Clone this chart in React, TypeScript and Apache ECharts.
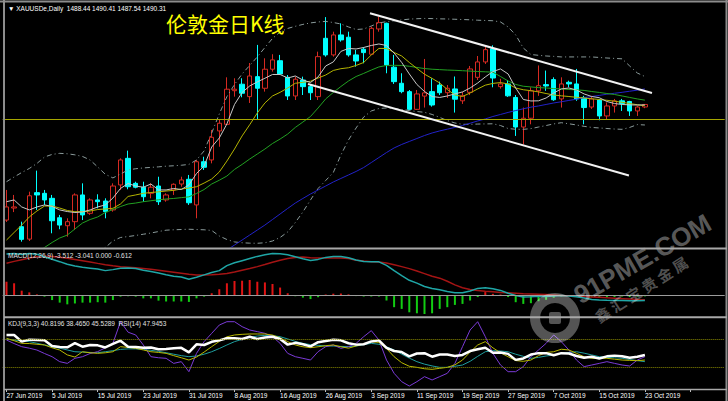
import React, { useEffect, useRef } from "react";
import * as echarts from "echarts";

const dates = [
  "27 Jun 2019", "28 Jun 2019", "1 Jul 2019", "2 Jul 2019", "3 Jul 2019", "4 Jul 2019",
  "5 Jul 2019", "8 Jul 2019", "9 Jul 2019", "10 Jul 2019", "11 Jul 2019", "12 Jul 2019",
  "15 Jul 2019", "16 Jul 2019", "17 Jul 2019", "18 Jul 2019", "19 Jul 2019", "22 Jul 2019",
  "23 Jul 2019", "24 Jul 2019", "25 Jul 2019", "26 Jul 2019", "29 Jul 2019", "30 Jul 2019",
  "31 Jul 2019", "1 Aug 2019", "2 Aug 2019", "5 Aug 2019", "6 Aug 2019", "7 Aug 2019",
  "8 Aug 2019", "9 Aug 2019", "12 Aug 2019", "13 Aug 2019", "14 Aug 2019", "15 Aug 2019",
  "16 Aug 2019", "19 Aug 2019", "20 Aug 2019", "21 Aug 2019", "22 Aug 2019", "23 Aug 2019",
  "26 Aug 2019", "27 Aug 2019", "28 Aug 2019", "29 Aug 2019", "30 Aug 2019", "2 Sep 2019",
  "3 Sep 2019", "4 Sep 2019", "5 Sep 2019", "6 Sep 2019", "9 Sep 2019", "10 Sep 2019",
  "11 Sep 2019", "12 Sep 2019", "13 Sep 2019", "16 Sep 2019", "17 Sep 2019", "18 Sep 2019",
  "19 Sep 2019", "20 Sep 2019", "23 Sep 2019", "24 Sep 2019", "25 Sep 2019", "26 Sep 2019",
  "27 Sep 2019", "30 Sep 2019", "1 Oct 2019", "2 Oct 2019", "3 Oct 2019", "4 Oct 2019",
  "7 Oct 2019", "8 Oct 2019", "9 Oct 2019", "10 Oct 2019", "11 Oct 2019", "14 Oct 2019",
  "15 Oct 2019", "16 Oct 2019", "17 Oct 2019", "18 Oct 2019", "21 Oct 2019", "22 Oct 2019",
  "23 Oct 2019",
];

const opens = [
  1404.7, 1413.6, 1399.8, 1390.6, 1425.0, 1424.5, 1420.8, 1406.4, 1400.5, 1403.5,
  1423.3, 1409.7, 1419.6, 1418.8, 1412.2, 1430.7, 1450.4, 1431.9, 1429.0, 1424.5,
  1429.9, 1419.6, 1427.0, 1431.4, 1434.9, 1415.9, 1447.9, 1449.2, 1470.7, 1475.6,
  1500.5, 1505.3, 1496.1, 1510.9, 1502.3, 1516.4, 1522.7, 1510.4, 1496.6, 1508.4,
  1503.5, 1496.1, 1539.3, 1527.0, 1541.8, 1540.1, 1527.0, 1531.2, 1527.5, 1546.2,
  1550.4, 1517.9, 1506.0, 1499.8, 1486.7, 1496.5, 1499.8, 1504.7, 1499.0, 1501.8,
  1493.0, 1499.3, 1510.4, 1521.8, 1531.6, 1503.5, 1505.5, 1495.5, 1473.6, 1480.1,
  1500.4, 1505.0, 1508.7, 1494.4, 1506.7, 1505.5, 1495.5, 1488.4, 1493.6, 1481.8,
  1489.2, 1493.0, 1492.5, 1485.5, 1488.44,
];
const highs = [
  1427.0, 1423.3, 1403.5, 1425.7, 1441.3, 1427.0, 1423.3, 1408.5, 1406.0, 1424.5,
  1431.9, 1420.8, 1423.8, 1420.8, 1431.9, 1450.4, 1456.1, 1433.1, 1433.1, 1431.9,
  1436.8, 1424.5, 1431.9, 1436.8, 1438.1, 1449.2, 1451.6, 1471.4, 1478.8, 1510.4,
  1509.7, 1509.7, 1521.0, 1534.4, 1524.5, 1527.5, 1527.0, 1512.1, 1510.9, 1510.9,
  1504.7, 1529.4, 1555.0, 1544.2, 1550.4, 1544.2, 1530.7, 1532.7, 1547.9, 1555.3,
  1550.9, 1527.0, 1513.4, 1501.0, 1501.0, 1524.0, 1509.7, 1507.2, 1504.7, 1511.0,
  1499.6, 1518.8, 1526.2, 1532.9, 1534.1, 1509.3, 1508.4, 1497.3, 1488.0, 1503.0,
  1519.2, 1515.4, 1510.4, 1510.4, 1507.9, 1516.6, 1496.7, 1496.7, 1494.4, 1491.8,
  1494.4, 1494.4, 1493.0, 1489.3, 1490.41,
];
const lows = [
  1403.3, 1410.6, 1388.7, 1389.2, 1412.2, 1415.9, 1394.9, 1397.9, 1392.4, 1397.3,
  1404.7, 1408.5, 1413.4, 1406.0, 1410.9, 1427.0, 1427.5, 1428.2, 1418.3, 1420.8,
  1415.9, 1418.3, 1423.3, 1429.4, 1415.9, 1406.0, 1441.8, 1446.7, 1459.0, 1475.1,
  1496.1, 1495.6, 1491.4, 1479.3, 1499.8, 1514.6, 1512.1, 1493.6, 1493.6, 1497.3,
  1493.6, 1493.6, 1525.7, 1525.7, 1536.8, 1525.7, 1518.3, 1520.8, 1527.0, 1544.2,
  1513.4, 1505.5, 1498.6, 1486.2, 1486.2, 1488.0, 1488.7, 1497.3, 1495.1, 1484.3,
  1490.7, 1497.3, 1508.4, 1520.3, 1503.0, 1502.0, 1495.9, 1467.0, 1460.7, 1475.6,
  1496.7, 1500.4, 1493.0, 1488.0, 1503.0, 1493.0, 1475.6, 1487.0, 1478.6, 1479.3,
  1484.3, 1485.5, 1481.8, 1481.8, 1487.54,
];
const closes = [
  1414.4, 1414.4, 1390.4, 1422.7, 1423.3, 1419.6, 1404.2, 1401.0, 1403.5, 1423.3,
  1408.5, 1419.6, 1418.3, 1410.9, 1429.9, 1449.2, 1429.4, 1429.0, 1422.0, 1429.0,
  1418.3, 1423.3, 1431.2, 1434.4, 1417.5, 1447.9, 1443.8, 1466.0, 1476.4, 1501.6,
  1501.6, 1498.6, 1511.4, 1502.3, 1516.4, 1523.3, 1512.9, 1496.6, 1509.0, 1503.5,
  1499.0, 1525.7, 1527.0, 1541.8, 1538.1, 1527.0, 1522.5, 1528.7, 1546.7, 1550.9,
  1519.6, 1507.2, 1499.8, 1486.7, 1498.1, 1498.9, 1489.9, 1499.0, 1502.3, 1494.2,
  1496.7, 1516.6, 1521.8, 1530.9, 1509.9, 1505.5, 1496.7, 1473.6, 1480.1, 1500.4,
  1504.2, 1504.0, 1493.8, 1505.5, 1505.5, 1494.4, 1488.0, 1494.4, 1481.8, 1489.2,
  1493.0, 1491.0, 1485.5, 1488.4, 1490.31,
];

const ma5 = [
  1418.3, 1419.6, 1414.4, 1412.2, 1414.4, 1415.9, 1414.8, 1412.2, 1411.0, 1410.3,
  1410.7, 1412.2, 1414.4, 1415.9, 1421.0, 1428.1, 1431.8, 1429.9, 1429.0, 1431.4,
  1427.0, 1427.0, 1428.1, 1427.3, 1430.7, 1439.2, 1444.7, 1458.8, 1465.5, 1475.9,
  1490.3, 1499.2, 1504.0, 1507.0, 1509.7, 1512.5, 1512.5, 1509.9, 1511.4, 1508.4,
  1506.6, 1510.7, 1518.8, 1521.8, 1529.6, 1531.8, 1531.4, 1532.5, 1534.0, 1535.1,
  1534.0, 1528.4, 1521.4, 1512.9, 1505.1, 1499.9, 1496.2, 1495.5, 1496.6, 1498.1,
  1499.6, 1502.5, 1506.2, 1510.7, 1514.7, 1516.6, 1512.9, 1502.5, 1494.0, 1492.9,
  1493.0, 1495.1, 1498.8, 1501.8, 1502.5, 1501.0, 1498.1, 1496.2, 1495.3, 1492.5,
  1491.0, 1490.3, 1490.0, 1489.9, 1490.0,
];
const ma10 = [
  1389.9, 1395.5, 1401.0, 1407.0, 1411.4, 1415.1, 1415.1, 1413.6, 1411.8, 1410.9,
  1410.9, 1411.4, 1412.5, 1412.9, 1413.4, 1416.6, 1422.2, 1423.3, 1424.5, 1425.1,
  1425.6, 1426.2, 1426.7, 1427.7, 1428.4, 1429.4, 1432.1, 1435.1, 1440.3, 1448.4,
  1457.3, 1467.0, 1475.3, 1484.0, 1491.4, 1496.6, 1499.3, 1502.5, 1506.0, 1506.7,
  1507.5, 1509.9, 1512.1, 1515.5, 1516.8, 1517.5, 1519.2, 1521.4, 1527.0, 1531.8,
  1531.8, 1528.8, 1526.2, 1521.4, 1517.0, 1512.7, 1509.6, 1506.2, 1501.4, 1497.3,
  1496.2, 1498.8, 1501.8, 1504.6, 1505.9, 1506.5, 1505.5, 1502.5, 1501.2, 1500.5,
  1499.6, 1498.4, 1497.3, 1496.7, 1496.2, 1495.6, 1495.1, 1494.5, 1494.0, 1493.4,
  1492.7, 1491.9, 1491.0, 1490.1, 1489.3,
];
const ma20 = [
  1369.2, 1372.2, 1375.0, 1378.0, 1381.0, 1384.4, 1388.1, 1391.4, 1393.6, 1398.1,
  1402.5, 1405.1, 1407.0, 1410.3, 1412.5, 1414.7, 1416.6, 1417.3, 1418.3, 1419.0,
  1419.7, 1420.3, 1420.7, 1421.3, 1421.9, 1424.4, 1427.3, 1431.4, 1434.2, 1437.3,
  1442.2, 1445.9, 1449.9, 1453.6, 1457.3, 1461.4, 1464.7, 1468.4, 1473.3, 1477.3,
  1481.4, 1487.7, 1494.4, 1499.2, 1503.6, 1507.7, 1511.0, 1513.3, 1515.8, 1518.1,
  1519.2, 1519.3, 1519.2, 1518.6, 1517.7, 1516.9, 1516.4, 1516.1, 1515.8, 1515.6,
  1515.3, 1515.0, 1514.7, 1514.5, 1514.2, 1511.0, 1507.7, 1505.1, 1503.8, 1503.3,
  1502.8, 1502.5, 1502.1, 1501.8, 1501.4, 1501.1, 1500.7, 1499.9, 1499.2, 1498.4,
  1497.7, 1496.6, 1495.5, 1494.4, 1493.5,
];
const maSlow = [
  null, null, null, null, null, null, null, null, null, null,
  null, null, null, null, null, null, null, null, null, null,
  null, null, null, null, null, null, null, null, 1378.8, 1382.5,
  1386.2, 1389.9, 1393.6, 1397.3, 1401.0, 1405.1, 1409.2, 1413.3, 1417.3, 1420.7,
  1424.0, 1427.0, 1429.9, 1432.9, 1435.5, 1438.1, 1440.7, 1443.6, 1447.3, 1451.0,
  1454.7, 1458.1, 1460.7, 1462.9, 1465.1, 1467.3, 1469.2, 1470.7, 1472.0, 1473.3,
  1474.7, 1476.4, 1478.1, 1479.6, 1481.4, 1482.9, 1484.4, 1485.8, 1487.1, 1488.3,
  1489.2, 1490.3, 1491.4, 1492.3, 1493.3, 1494.2, 1495.3, 1496.2, 1497.0, 1497.9,
  1498.6, 1499.3, 1500.1, 1500.9, 1501.8,
];
const bbUpper = [
  1433.1, 1436.6, 1439.9, 1442.9, 1446.6, 1451.4, 1453.3, 1454.1, 1453.8, 1453.0,
  1451.8, 1449.2, 1444.0, 1438.6, 1435.9, 1438.8, 1441.8, 1442.7, 1443.3, 1443.7,
  1444.1, 1444.6, 1444.9, 1445.3, 1445.9, 1449.2, 1455.9, 1469.2, 1483.3, 1496.1,
  1505.1, 1512.9, 1519.2, 1525.5, 1532.5, 1539.2, 1544.0, 1546.6, 1548.2, 1549.6,
  1550.7, 1551.4, 1551.8, 1551.0, 1549.9, 1547.7, 1545.8, 1546.2, 1548.4, 1550.7,
  1551.6, 1552.3, 1552.9, 1553.5, 1553.8, 1554.0, 1553.9, 1553.7, 1553.6, 1553.4,
  1553.2, 1553.0, 1552.7, 1552.5, 1552.3, 1551.4, 1547.7, 1541.8, 1532.1, 1527.3,
  1526.7, 1526.2, 1525.9, 1525.5, 1525.5, 1525.5, 1525.5, 1525.5, 1525.1, 1524.7,
  1524.4, 1524.1, 1518.8, 1513.6, 1511.0,
];
const bbLower = [
  null, null, null, null, null, null, null, null, null, null,
  null, null, 1381.0, 1384.4, 1389.2, 1391.8, 1392.5, 1393.3, 1394.2, 1395.1,
  1396.2, 1397.2, 1397.5, 1397.7, 1397.9, 1397.7, 1397.5, 1397.0, 1392.9, 1390.3,
  1388.5, 1387.9, 1387.6, 1387.5, 1387.9, 1389.2, 1391.8, 1395.9, 1402.9, 1410.7,
  1419.6, 1428.1, 1434.0, 1439.9, 1452.9, 1464.0, 1472.9, 1481.0, 1485.5, 1487.3,
  1487.7, 1487.3, 1486.6, 1485.8, 1485.1, 1484.5, 1482.9, 1480.7, 1478.4, 1476.6,
  1475.6, 1475.6, 1475.8, 1475.9, 1476.0, 1474.7, 1472.5, 1471.9, 1471.9, 1472.4,
  1473.6, 1474.7, 1475.9, 1476.8, 1476.0, 1475.1, 1474.1, 1473.3, 1472.9, 1472.5,
  1472.1, 1471.9, 1473.3, 1475.4, 1475.1,
];

const supportLevel = 1479.3;
const upperChannel = [[47.83, 1557.8], [84.93, 1498.8]];
const lowerChannel = [[39.67, 1505.5], [81.9, 1437.7]];

const dif = [
  29.2, 29.5, 28.8, 29.5, 29.0, 27.3, 25.5, 23.8, 22.0, 20.8,
  19.8, 19.2, 18.6, 17.5, 18.2, 19.1, 19.3, 19.0, 17.8, 16.9,
  15.8, 14.6, 13.6, 13.0, 11.4, 12.8, 14.5, 16.2, 17.5, 21.0,
  23.0, 24.5, 26.0, 27.5, 28.6, 29.6, 29.3, 28.6, 27.2, 25.8,
  24.6, 25.4, 26.8, 27.4, 27.5, 26.6, 25.0, 23.9, 23.8, 23.7,
  21.2, 17.5, 14.0, 10.7, 8.7, 6.3, 5.0, 4.0, 2.9, 2.0,
  1.9, 3.2, 5.0, 5.5, 4.8, 3.6, 1.6, 0.0, -1.1, -0.9,
  -0.6, -0.7, -0.3, 0.0, -0.3, -0.9, -1.8, -2.8, -3.2, -3.4,
  -3.5, -3.5, -3.6, -3.6, -3.5,
];
const dea = [
  22.7, 24.0, 25.2, 26.3, 27.2, 27.6, 27.4, 26.9, 26.2, 25.4,
  24.5, 23.6, 22.6, 21.7, 20.9, 20.3, 19.9, 19.5, 19.0, 18.4,
  17.8, 17.1, 16.4, 15.7, 15.0, 14.5, 14.4, 14.6, 14.9, 15.5,
  16.5, 17.8, 19.0, 20.3, 21.8, 23.4, 24.8, 26.0, 26.8, 27.0,
  26.6, 26.3, 26.3, 26.4, 26.4, 26.0, 24.8, 24.2, 23.8, 23.6,
  22.8, 21.6, 20.3, 18.9, 17.2, 15.4, 13.6, 12.2, 10.0, 7.5,
  5.5, 4.3, 3.6, 3.0, 2.6, 2.2, 1.9, 1.6, 1.3, 1.1,
  0.9, 0.7, 0.4, 0.0, -0.3, -0.7, -0.9, -1.1, -1.3, -1.6,
  -1.9, -2.2, -2.5, -2.8, -3.0,
];
const macdHist = [
  9.7, 8.6, 3.4, 2.2, 0.8, -0.8, -3.2, -5.0, -6.2, -5.6,
  -5.0, -5.0, -4.7, -5.0, -3.2, -0.8, -0.5, -0.8, -2.0, -2.0,
  -3.6, -4.2, -4.2, -4.2, -4.5, -2.0, -0.8, 1.6, 4.4, 8.6,
  10.2, 10.4, 10.9, 9.7, 9.2, 8.1, 5.6, 1.6, -0.5, -1.5,
  -2.5, -1.2, 0.7, 1.3, 1.4, 0.8, -0.4, -0.7, -0.7, -0.7,
  -3.5, -8.2, -9.4, -11.8, -12.5, -13.0, -12.5, -9.4, -8.2, -6.6,
  -5.9, -3.5, -1.1, 2.4, 1.2, 0.7, -1.1, -4.7, -5.9, -5.4,
  -4.0, -3.0, -1.6, -0.7, -0.7, -0.7, -1.1, -1.1, -1.6, -1.1,
  -1.1, -0.7, -1.1, -0.7, -0.6,
];

const kLine = [
  71.4, 68.0, 64.3, 64.0, 63.0, 62.0, 58.0, 54.9, 48.0, 45.0,
  52.5, 51.0, 50.2, 51.0, 52.5, 59.6, 58.5, 57.3, 55.0, 52.5,
  51.5, 50.2, 47.0, 44.0, 40.8, 45.0, 52.0, 59.6, 67.0, 73.5,
  76.1, 77.0, 77.5, 77.5, 77.5, 76.0, 72.0, 66.7, 62.0, 59.5,
  58.2, 59.5, 61.0, 62.0, 59.5, 57.5, 60.6, 63.5, 66.7, 65.5,
  57.0, 45.5, 37.0, 32.0, 30.5, 28.5, 27.7, 29.1, 30.5, 34.0,
  40.8, 52.0, 62.0, 66.7, 58.0, 51.0, 45.5, 40.0, 39.0, 40.8,
  47.0, 51.5, 52.5, 56.0, 55.0, 50.2, 45.5, 43.2, 43.2, 43.2,
  42.0, 40.8, 40.3, 39.9, 40.8,
];
const dLine = [
  70.0, 69.0, 67.8, 66.7, 64.5, 62.0, 59.6, 57.5, 55.0, 52.5,
  52.0, 51.5, 51.1, 52.5, 54.0, 55.8, 56.5, 56.5, 55.8, 54.5,
  53.0, 51.1, 49.0, 47.0, 45.5, 46.5, 49.0, 52.5, 57.0, 62.0,
  66.7, 70.0, 72.5, 74.6, 75.5, 75.0, 73.7, 70.5, 67.0, 64.3,
  62.5, 61.5, 60.6, 60.5, 60.0, 59.6, 60.5, 62.5, 64.3, 63.0,
  59.5, 54.9, 49.0, 43.5, 38.5, 35.0, 32.5, 30.5, 30.5, 32.0,
  33.8, 39.0, 46.0, 52.5, 54.0, 53.5, 52.5, 49.0, 46.0, 43.2,
  44.5, 46.5, 47.9, 50.0, 51.5, 52.5, 50.5, 48.0, 45.5, 44.5,
  44.0, 43.2, 41.5, 40.0, 38.5,
];
const jLine = [
  69.0, 64.0, 59.6, 57.5, 54.9, 50.0, 45.5, 38.5, 36.1, 43.2,
  45.5, 50.0, 52.6, 58.0, 64.3, 94.8, 80.0, 76.1, 62.0, 45.5,
  44.0, 43.2, 36.1, 38.5, 24.4, 50.2, 66.7, 78.4, 90.1, 94.8,
  94.8, 87.8, 83.1, 80.8, 78.4, 73.7, 64.3, 50.2, 45.5, 43.2,
  40.8, 52.6, 59.6, 62.0, 57.3, 59.6, 64.3, 73.7, 82.2, 69.0,
  40.8, 22.1, 10.3, 4.2, 10.3, 17.4, 12.7, 17.4, 22.1, 36.1,
  59.6, 83.1, 94.8, 73.7, 50.2, 33.8, 24.4, 24.4, 31.5, 45.5,
  54.9, 64.3, 76.1, 66.7, 54.9, 40.8, 31.5, 33.8, 36.1, 38.5,
  36.1, 33.8, 32.4, 40.8, 45.5,
];
const rsi = [
  76.0, 76.0, 66.7, 69.5, 69.0, 68.5, 60.5, 59.0, 58.7, 64.5,
  59.6, 62.0, 61.5, 58.5, 63.5, 68.0, 59.6, 59.0, 58.0, 58.5,
  56.0, 56.5, 57.5, 58.0, 51.6, 63.0, 62.0, 66.5, 68.5, 71.5,
  71.4, 70.5, 73.5, 70.5, 72.5, 73.5, 70.5, 62.5, 65.0, 63.0,
  60.0, 66.0, 67.5, 69.5, 68.5, 64.5, 62.5, 63.0, 67.0, 68.5,
  58.0, 53.5, 52.0, 46.0, 50.0, 50.5, 45.5, 48.5, 48.5, 46.5,
  48.0, 53.5, 56.0, 58.0, 51.0, 51.5, 49.5, 41.0, 43.0, 48.5,
  50.5, 50.5, 47.5, 50.5, 50.0, 46.5, 44.0, 45.5, 43.0, 46.0,
  47.0, 46.0, 44.0, 45.5, 47.9,
];
const kdjLevels = [70, 30];

const headerText = "\u25BC XAUUSDe,Daily  1488.44 1490.41 1487.54 1490.31";
const titleText = "伦敦金日K线";
const macdText = "MACD(12,26,9) -3.512 -3.041 0.000 -0.612";
const kdjText = "KDJ(9,3,3) 40.8196 38.4650 45.5289  RSI(14) 47.9453";
const watermarkText = "91PME.COM";
const watermarkSub = "鑫 汇 宝 贵 金 属";

const EMPTY_SLOTS = 10;
const FONT = '"Liberation Sans", Arial, sans-serif';

export default function App() {
  const ref = useRef<HTMLDivElement>(null);

  useEffect(() => {
    document.body.style.margin = "0";
    document.body.style.background = "#000";
    const chart = echarts.init(ref.current!, null, { renderer: "svg" });

    const cats = [...dates];
    for (let k = 0; k < EMPTY_SLOTS; k++) cats.push("pad" + k);
    const n = cats.length;
    const labelFmt = (v: string) => (v.startsWith("pad") ? "" : v);

    const candleData = dates.map((_, i) => [opens[i], closes[i], lows[i], highs[i]]);

    const GRID_LEFT = 2.7;
    const GRID_W = 722;

    const catAxis = (gridIndex: number, showLabels: boolean) => ({
      type: "category",
      gridIndex,
      data: cats,
      boundaryGap: true,
      axisLine: { show: false },
      axisTick: showLabels
        ? { show: true, interval: 5, alignWithLabel: true, length: 3, lineStyle: { color: "#bdbdbd" } }
        : { show: false },
      axisLabel: showLabels
        ? {
            show: true,
            interval: 5,
            formatter: labelFmt,
            color: "#ffffff",
            fontSize: 6.5,
            fontFamily: FONT,
            align: "left",
            margin: 3,
          }
        : { show: false },
      splitLine: { show: false },
    });

    const lineS = (data: any[], color: string, width: number, xi: number, yi: number, extra: any = {}) => ({
      type: "line",
      data,
      xAxisIndex: xi,
      yAxisIndex: yi,
      symbol: "none",
      showSymbol: false,
      connectNulls: false,
      lineStyle: { color, width, ...(extra.lineStyle || {}) },
      z: extra.z ?? 3,
      silent: true,
    });

    const option: any = {
      animation: false,
      backgroundColor: "#000000",
      grid: [
        { left: GRID_LEFT, width: GRID_W, top: 4, height: 243 },
        { left: GRID_LEFT, width: GRID_W, top: 250, height: 66 },
        { left: GRID_LEFT, width: GRID_W, top: 318, height: 71 },
      ],
      xAxis: [
        catAxis(0, false),
        { type: "value", gridIndex: 0, min: -0.5, max: n - 0.5, show: false },
        catAxis(1, false),
        catAxis(2, true),
      ],
      yAxis: [
        { type: "value", gridIndex: 0, min: 1384.75, max: 1564.7, show: false, splitLine: { show: false } },
        { type: "value", gridIndex: 1, min: -14.4, max: 32, show: false, splitLine: { show: false } },
        { type: "value", gridIndex: 2, min: 0, max: 100, show: false, splitLine: { show: false } },
      ],
      series: [
        {
          type: "candlestick",
          xAxisIndex: 0,
          yAxisIndex: 0,
          data: candleData,
          barWidth: 5,
          z: 2,
          silent: true,
          itemStyle: {
            color: "#000000",
            color0: "#00ffff",
            borderColor: "#d62a22",
            borderColor0: "#00ffff",
            borderWidth: 1,
          },
          markLine: {
            silent: true,
            symbol: "none",
            label: { show: false },
            lineStyle: { color: "#a6a600", width: 1, type: "solid" },
            data: [{ yAxis: supportLevel }],
          },
        },
        lineS(bbUpper, "#8a9a9a", 1, 0, 0, { lineStyle: { type: [5, 3, 1, 3] } }),
        lineS(bbLower, "#8a9a9a", 1, 0, 0, { lineStyle: { type: [5, 3, 1, 3] } }),
        lineS(maSlow, "#2222c8", 1, 0, 0),
        lineS(ma20, "#22a022", 1, 0, 0),
        lineS(ma10, "#b4b400", 1, 0, 0),
        lineS(ma5, "#c8c8c8", 1, 0, 0),
        lineS(upperChannel, "#f2f2f2", 2, 1, 0, { z: 5 }),
        lineS(lowerChannel, "#f2f2f2", 2, 1, 0, { z: 5 }),
        {
          type: "bar",
          xAxisIndex: 2,
          yAxisIndex: 1,
          barWidth: 2,
          silent: true,
          data: macdHist.map((v) => ({ value: v, itemStyle: { color: v >= 0 ? "#e01414" : "#12cc12" } })),
          markLine: {
            silent: true,
            symbol: "none",
            label: { show: false },
            lineStyle: { color: "#9c9c9c", width: 1, type: "solid" },
            data: [{ yAxis: 0 }],
          },
        },
        lineS(dea, "#a41414", 1.5, 2, 1),
        lineS(dif, "#1fa6a6", 1.5, 2, 1),
        {
          ...lineS(dLine, "#1f9e9e", 1, 3, 2),
          markLine: {
            silent: true,
            symbol: "none",
            label: { show: false },
            lineStyle: { color: "#8a8a00", width: 1, type: "dotted" },
            data: kdjLevels.map((v) => ({ yAxis: v })),
          },
        },
        lineS(jLine, "#7a3ad6", 1, 3, 2),
        lineS(kLine, "#b8b800", 1, 3, 2),
        lineS(rsi, "#ffffff", 2.5, 3, 2, { z: 4 }),
      ],
      graphic: [
        { type: "line", z: 100, shape: { x1: 0, y1: 1.5, x2: 728, y2: 1.5 }, style: { stroke: "#8c8c8c", lineWidth: 2 } },
        { type: "line", z: 100, shape: { x1: 4, y1: 0, x2: 4, y2: 401 }, style: { stroke: "#8c8c8c", lineWidth: 2 } },
        { type: "line", z: 100, shape: { x1: 726.5, y1: 0, x2: 726.5, y2: 401 }, style: { stroke: "#8c8c8c", lineWidth: 2 } },
        { type: "line", z: 100, shape: { x1: 4, y1: 248.5, x2: 727, y2: 248.5 }, style: { stroke: "#a8a8a8", lineWidth: 2 } },
        { type: "line", z: 100, shape: { x1: 4, y1: 317.3, x2: 727, y2: 317.3 }, style: { stroke: "#a8a8a8", lineWidth: 2 } },
        { type: "line", z: 100, shape: { x1: 4, y1: 389.5, x2: 727, y2: 389.5 }, style: { stroke: "#a8a8a8", lineWidth: 1.5 } },
        {
          type: "text", z: 100, x: 8, y: 8,
          style: { text: headerText, fill: "#ffffff", font: `6.5px ${FONT}`, textVerticalAlign: "middle" },
        },
        {
          type: "text", z: 100, x: 166, y: 23,
          style: { text: titleText, fill: "#ffff00", font: '21px "Noto Sans CJK SC", sans-serif', textVerticalAlign: "middle" },
        },
        {
          type: "text", z: 100, x: 8, y: 255.5,
          style: { text: macdText, fill: "#e0e0e0", font: `6.5px ${FONT}`, textVerticalAlign: "middle" },
        },
        {
          type: "text", z: 100, x: 8, y: 323,
          style: { text: kdjText, fill: "#e0e0e0", font: `6.5px ${FONT}`, textVerticalAlign: "middle" },
        },
        {
          type: "ring", z: 90,
          shape: { cx: 555, cy: 318, r: 25, r0: 15 },
          style: { fill: "rgba(255,255,255,0.33)" },
        },
        {
          type: "rect", z: 90,
          shape: { x: 549, y: 312, width: 12, height: 12, r: 2 },
          style: { fill: "rgba(255,255,255,0.33)" },
        },
        {
          type: "group", z: 90, x: 576, y: 297, rotation: 0.52,
          children: [
            {
              type: "text", z: 90,
              style: {
                text: watermarkText,
                fill: "rgba(255,255,255,0.36)",
                font: `bold 26px ${FONT}`,
                textVerticalAlign: "middle",
              },
            },
          ],
        },
        {
          type: "group", z: 90, x: 596, y: 318, rotation: 0.57,
          children: [
            {
              type: "text", z: 90,
              style: {
                text: watermarkSub,
                fill: "rgba(255,255,255,0.33)",
                font: 'bold 15px "Noto Sans CJK SC", sans-serif',
                textVerticalAlign: "middle",
              },
            },
          ],
        },
      ],
    };

    chart.setOption(option);
    return () => chart.dispose();
  }, []);

  return <div ref={ref} style={{ width: 728, height: 401, background: "#000" }} />;
}
